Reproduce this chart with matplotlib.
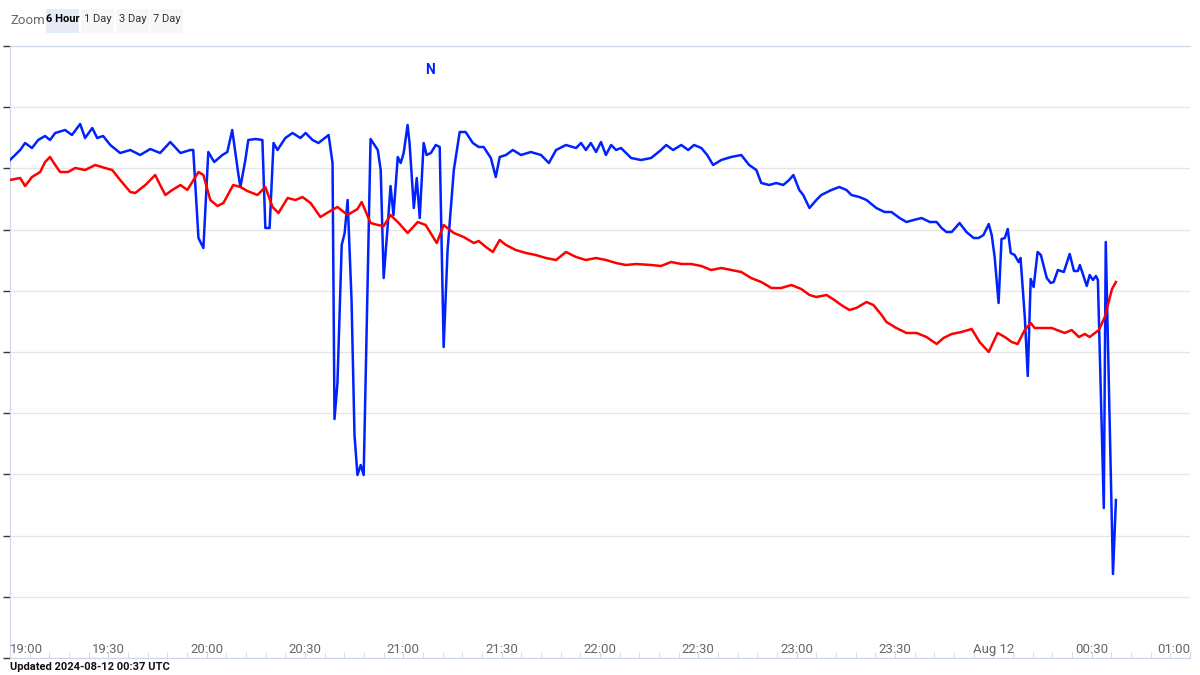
import matplotlib
matplotlib.use("Agg")
import matplotlib.pyplot as plt
from matplotlib.patches import Rectangle
import matplotlib.transforms as mtransforms

plt.rcParams["font.family"] = ["Roboto", "DejaVu Sans"]

# minutes after 19:00 and relative level (axis carries no labels)
blue = [
    (0, 498), (3.1, 508), (4.6, 515), (6.7, 510), (8.6, 518), (10.7, 522), (12.2, 518), (13.8, 525),
    (16.8, 528), (18.9, 523), (21.4, 534), (22.9, 520), (25.1, 530), (26.6, 520), (28.4, 522), (30.6, 513),
    (33.6, 505), (36.7, 508), (39.7, 503), (42.8, 509), (45.8, 505), (48.9, 516), (52.0, 505), (55.0, 508),
    (55.9, 508), (57.5, 420), (59.0, 410), (60.5, 506), (62.3, 496), (64.8, 503), (66.3, 506), (67.8, 528),
    (69.7, 483), (70.3, 471), (71.8, 498), (72.7, 518), (74.9, 519), (77.0, 518), (77.9, 430), (79.2, 430),
    (80.4, 515), (81.6, 508), (84.0, 520), (86.2, 525), (88.6, 520), (90.2, 525), (92.3, 518), (94.1, 515),
    (97.2, 523), (98.4, 495), (99.0, 239), (99.9, 275), (101.2, 413), (102.1, 425), (103.0, 458), (104.2, 358),
    (105.1, 223), (106.0, 183), (107.0, 193), (107.9, 183), (110.0, 519), (112.2, 508), (113.1, 488), (114.0, 380),
    (115.2, 431), (116.1, 472), (117.0, 443), (118.3, 501), (119.2, 495), (120.1, 505), (121.3, 533), (121.9, 515),
    (123.2, 450), (124.1, 480), (125.0, 440), (126.2, 515), (127.1, 503), (128.4, 505), (129.9, 513), (131.1, 511),
    (132.3, 311), (133.5, 408), (135.4, 488), (137.2, 526), (139.0, 526), (141.2, 515), (143.0, 511), (144.5, 511),
    (146.7, 500), (148.2, 481), (149.4, 501), (151.3, 503), (153.4, 508), (155.9, 503), (158.9, 506), (162.0, 503),
    (164.4, 495), (166.6, 508), (169.6, 513), (172.7, 510), (174.2, 515), (175.7, 508), (177.2, 515), (178.8, 506),
    (180.3, 516), (181.8, 503), (183.4, 513), (184.9, 508), (186.4, 510), (189.5, 500), (192.5, 498), (195.6, 500),
    (198.6, 508), (200.2, 513), (202.3, 508), (204.8, 513), (206.9, 508), (208.7, 513), (210.9, 510), (212.7, 503),
    (214.5, 493), (217.0, 498), (220.0, 501), (223.1, 503), (225.5, 493), (227.7, 488), (229.2, 475), (231.6, 473),
    (233.8, 475), (235.9, 473), (237.7, 478), (239.0, 483), (240.8, 468), (242.0, 463), (243.9, 450), (246.0, 458),
    (247.5, 463), (250.6, 468), (253.0, 471), (255.2, 468), (256.7, 463), (259.1, 461), (261.3, 458), (264.3, 450),
    (266.8, 446), (268.9, 446), (271.4, 440), (273.5, 436), (275.7, 438), (278.1, 440), (280.6, 436), (282.7, 436),
    (284.2, 430), (285.7, 426), (287.3, 426), (289.7, 435), (291.8, 426), (294.0, 420), (295.5, 420), (297.0, 423),
    (298.6, 434), (299.5, 423), (300.4, 401), (301.6, 355), (302.5, 419), (303.5, 420), (304.4, 429), (305.3, 405),
    (306.5, 403), (307.7, 396), (308.3, 400), (309.6, 341), (310.5, 282), (311.4, 379), (312.3, 371), (313.5, 406),
    (314.5, 403), (316.3, 380), (317.5, 375), (318.4, 376), (319.7, 388), (321.5, 386), (323.3, 404), (324.6, 387),
    (325.8, 387), (326.4, 393), (328.5, 372), (329.4, 383), (330.4, 378), (331.3, 382), (331.9, 378), (333.7, 150),
    (334.3, 416), (336.5, 84), (337.4, 158),
]

red = [
    (0, 478), (3.1, 480), (4.6, 472), (6.7, 481), (9.2, 486), (10.7, 496), (12.2, 501), (13.8, 493),
    (15.3, 486), (17.7, 486), (19.9, 490), (22.9, 488), (26.0, 493), (29.0, 490), (31.2, 488), (33.6, 478),
    (36.7, 466), (38.2, 465), (41.3, 473), (44.3, 483), (45.8, 473), (47.4, 463), (49.5, 468), (52.0, 473),
    (54.1, 468), (57.5, 486), (59.0, 483), (61.1, 458), (63.3, 452), (65.1, 455), (68.1, 473), (70.3, 471),
    (72.4, 467), (75.5, 463), (77.9, 471), (80.1, 451), (81.9, 445), (84.7, 460), (87.1, 458), (89.2, 461),
    (91.7, 455), (94.7, 441), (97.2, 446), (99.9, 451), (103.0, 443), (106.0, 449), (107.3, 456), (110.0, 435),
    (112.2, 433), (114.0, 432), (116.1, 443), (118.6, 435), (121.3, 425), (124.4, 436), (126.8, 433), (130.2, 415),
    (132.3, 433), (135.4, 425), (138.4, 421), (141.5, 415), (143.0, 417), (145.2, 411), (147.3, 406), (149.4, 418),
    (151.3, 413), (154.3, 408), (157.4, 405), (160.4, 403), (163.5, 400), (166.6, 398), (169.6, 406), (172.7, 401),
    (175.7, 398), (178.8, 400), (181.8, 398), (184.9, 395), (187.9, 393), (191.0, 394), (195.6, 393), (198.6, 392),
    (201.7, 396), (204.8, 394), (207.8, 394), (210.9, 392), (213.9, 388), (217.0, 390), (220.0, 388), (223.1, 386),
    (226.1, 380), (229.2, 376), (232.3, 370), (235.3, 370), (238.4, 373), (241.4, 369), (243.9, 363), (246.0, 361),
    (249.1, 363), (251.5, 358), (253.6, 353), (256.1, 348), (258.2, 350), (261.3, 356), (263.4, 353), (265.9, 343),
    (267.4, 336), (270.4, 330), (273.5, 325), (276.6, 325), (279.6, 321), (282.7, 314), (284.8, 320), (287.3, 324),
    (290.3, 326), (293.4, 329), (295.8, 316), (298.6, 306), (301.3, 325), (303.5, 321), (305.6, 316), (307.4, 314),
    (309.6, 328), (311.4, 335), (312.6, 330), (317.8, 330), (321.8, 325), (323.9, 328), (326.1, 321), (327.9, 324),
    (329.4, 321), (332.2, 328), (334.0, 341), (336.2, 369), (337.4, 376),
]

tick_labels = ["19:00", "19:30", "20:00", "20:30", "21:00", "21:30", "22:00",
               "22:30", "23:00", "23:30", "Aug 12", "00:30", "01:00"]
zoom_buttons = ["6 Hour", "1 Day", "3 Day", "7 Day"]

fig = plt.figure(figsize=(12, 6.75), dpi=100)
ax = fig.add_axes([10 / 1200, 1 - 658 / 675, 1180 / 1200, 612 / 675])

ax.plot([t for t, _ in blue], [v for _, v in blue], color="#0022ff", lw=1.8, zorder=3)
ax.plot([t for t, _ in red], [v for _, v in red], color="#ff0000", lw=1.8, zorder=3)

ax.set_xlim(0, 360)
ax.set_ylim(0, 612)
ax.set_yticks([i * 61.2 for i in range(11)])
ax.set_yticklabels([])
ax.tick_params(axis="y", length=5, width=1, color="#333333", direction="out")
ax.grid(axis="y", color="#e6e6e6", lw=1)
ax.set_xticks([i * 30 for i in range(13)])
ax.set_xticks([i * 6 for i in range(61)], minor=True)
ax.set_xticklabels([])
ax.tick_params(axis="x", which="both", direction="in", length=4, color="#ccd6eb")
for side in ["left", "top", "bottom", "right"]:
    ax.spines[side].set_color("#ccd6eb")
ax.spines["right"].set_visible(False)

trans = mtransforms.blended_transform_factory(ax.transData, ax.transAxes)
for i, lab in enumerate(tick_labels):
    ha = "left" if i == 0 else ("right" if i == len(tick_labels) - 1 else "center")
    ax.text(i * 30, 0.003, lab, transform=trans, ha=ha, va="bottom", fontsize=9.5, color="#666666")

ax.text(128, 588, "N", color="#0022ff", fontsize=10, fontweight="bold", ha="center", va="center")

fig.text(10 / 1200, 1 - 20 / 675, "Zoom", fontsize=9.5, color="#666666", va="center")
bx = [46, 81, 116, 150]
for x0, lab in zip(bx, zoom_buttons):
    sel = lab == "6 Hour"
    fig.patches.append(Rectangle((x0 / 1200, 1 - 33 / 675), 33 / 1200, 24 / 675,
                                 transform=fig.transFigure,
                                 facecolor="#e6ebf5" if sel else "#f7f7f7", edgecolor="none"))
    fig.text((x0 + 16.5) / 1200, 1 - 19 / 675, lab, fontsize=8, ha="center", va="center",
             color="#000000" if sel else "#333333", fontweight="bold" if sel else "normal")

fig.text(10 / 1200, 1 - 667 / 675, "Updated 2024-08-12 00:37 UTC", fontsize=8,
         fontweight="bold", va="center", color="#111111")

fig.savefig("out.png", dpi=100)
